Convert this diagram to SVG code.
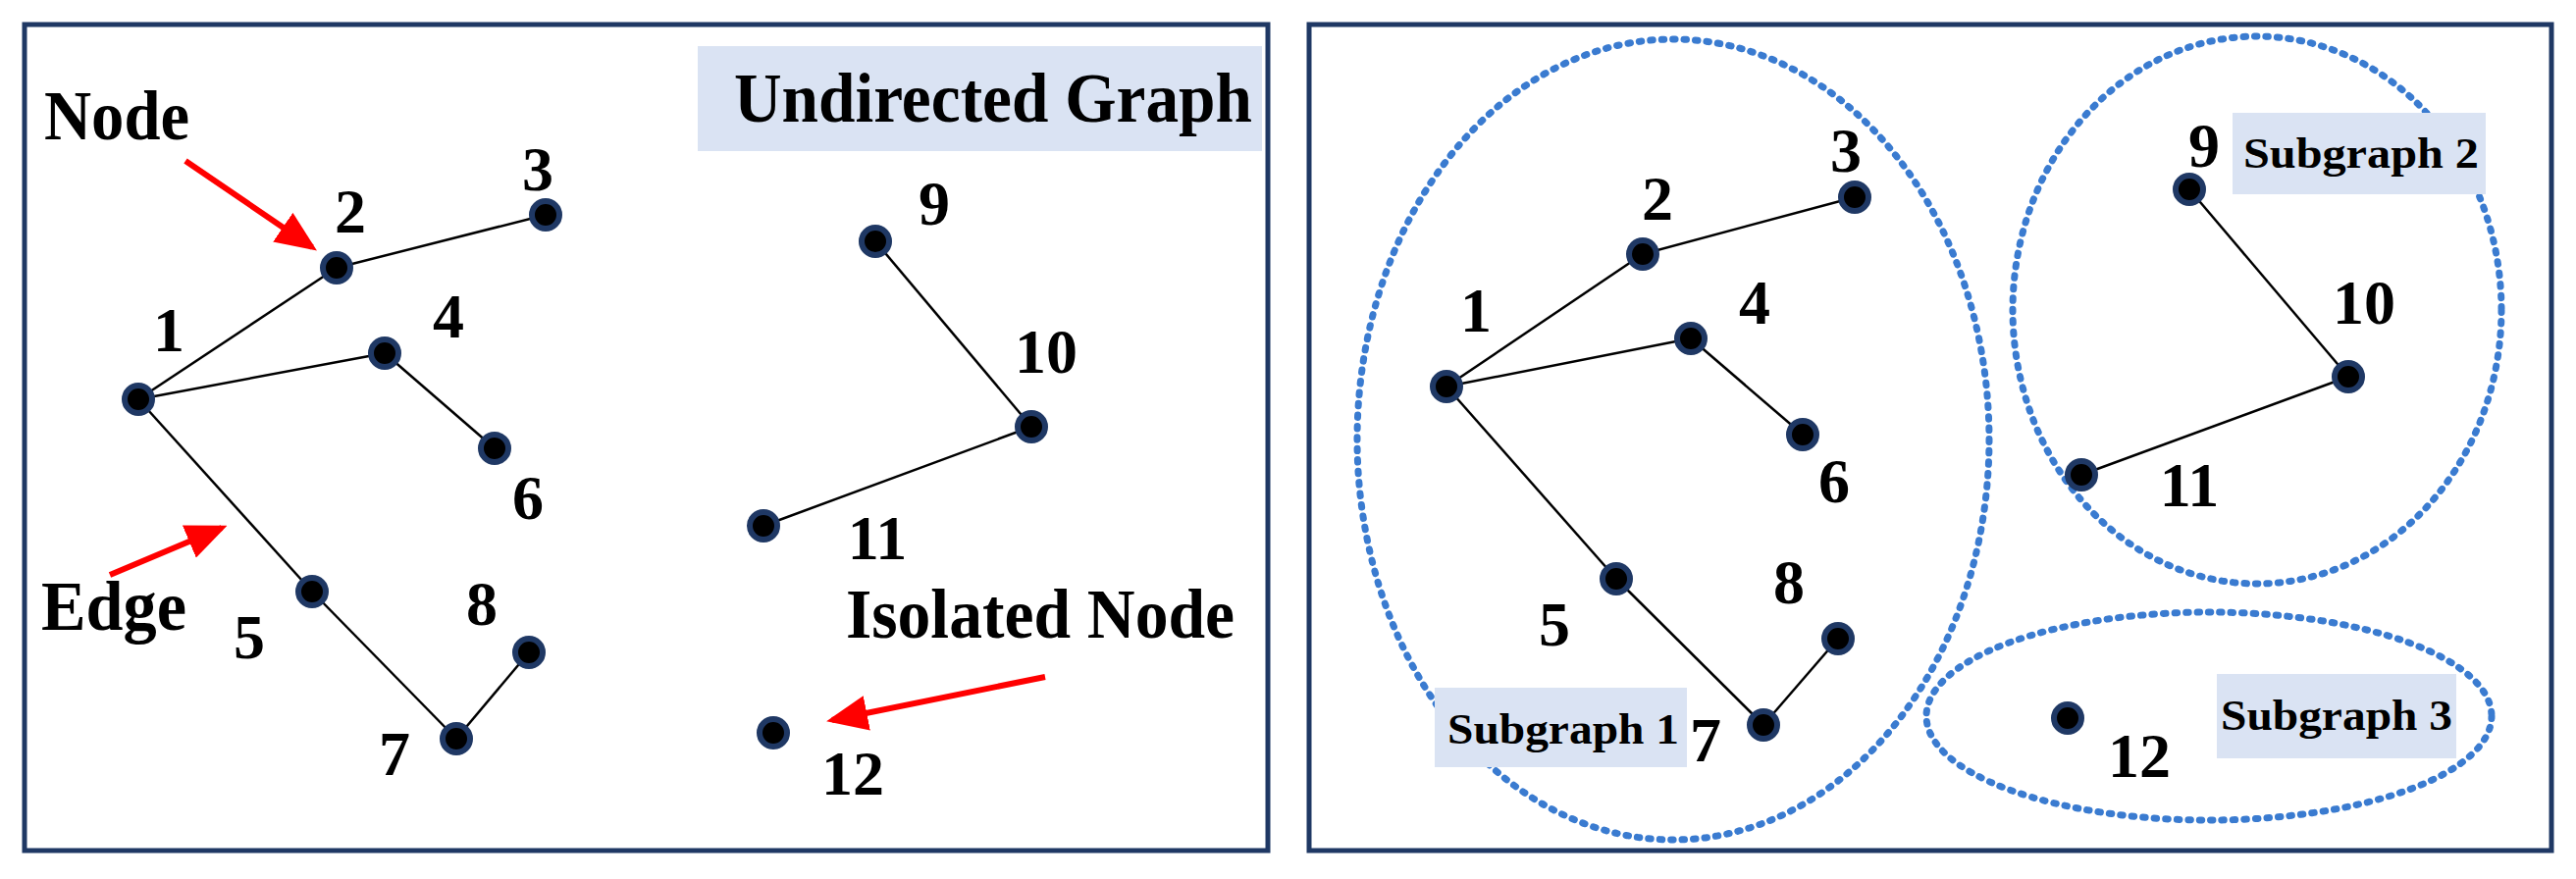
<svg xmlns="http://www.w3.org/2000/svg" width="2625" height="896" viewBox="0 0 2625 896">
<style>
.panel{fill:#fff;stroke:#1f3864;stroke-width:5}
.n{fill:#000;stroke:#1f3864;stroke-width:6}
.e{stroke:#000;stroke-width:2.5;fill:none}
.t{font-family:"Liberation Serif",serif;font-weight:bold;font-size:64px;fill:#000;text-anchor:middle}
.w{font-family:"Liberation Serif",serif;font-weight:bold;font-size:72px;fill:#000}
.s{font-family:"Liberation Serif",serif;font-weight:bold;font-size:44px;fill:#000}
.box{fill:#dae3f3}
.ell{fill:none;stroke:#3a7bd0;stroke-width:7;stroke-dasharray:2.5 9;stroke-linecap:round}
.arr{stroke:#f00;stroke-width:6;fill:none}
</style>
<defs><marker id="ah" markerWidth="7" markerHeight="6" refX="6" refY="3" orient="auto"><path d="M0,0 L7,3 L0,6 z" fill="#f00"/></marker></defs>
<rect class="panel" x="25" y="25" width="1267" height="842"/>
<rect class="panel" x="1334" y="25" width="1266" height="842"/>
<g id="labels-left">
<rect class="box" x="711" y="47" width="575" height="107"/>
<text class="w" x="748" y="124" textLength="528" lengthAdjust="spacingAndGlyphs">Undirected Graph</text>
<text class="w" x="45" y="142" textLength="148" lengthAdjust="spacingAndGlyphs">Node</text>
<text class="w" x="42" y="642" textLength="148" lengthAdjust="spacingAndGlyphs">Edge</text>
<text class="w" x="862" y="650" textLength="396" lengthAdjust="spacingAndGlyphs">Isolated Node</text>
</g>
<g id="connectors">
<line class="e" x1="141" y1="407" x2="343" y2="273"/><line class="e" x1="343" y1="273" x2="556" y2="219"/>
<line class="e" x1="141" y1="407" x2="392" y2="360"/><line class="e" x1="392" y1="360" x2="504" y2="457"/>
<line class="e" x1="141" y1="407" x2="318" y2="603"/><line class="e" x1="318" y1="603" x2="465" y2="753"/>
<line class="e" x1="465" y1="753" x2="539" y2="665"/><line class="e" x1="892" y1="246" x2="1051" y2="435"/>
<line class="e" x1="1051" y1="435" x2="778" y2="536"/>
<line class="e" x1="1474" y1="394" x2="1674" y2="259"/><line class="e" x1="1674" y1="259" x2="1890" y2="201"/>
<line class="e" x1="1474" y1="394" x2="1723" y2="345"/><line class="e" x1="1723" y1="345" x2="1837" y2="443"/>
<line class="e" x1="1474" y1="394" x2="1647" y2="590"/><line class="e" x1="1647" y1="590" x2="1797" y2="739"/>
<line class="e" x1="1797" y1="739" x2="1873" y2="651"/><line class="e" x1="2231" y1="193" x2="2393" y2="384"/>
<line class="e" x1="2393" y1="384" x2="2121" y2="484"/>
<line class="arr" x1="189" y1="164" x2="318" y2="252" marker-end="url(#ah)"/>
<line class="arr" x1="112" y1="586" x2="226" y2="538" marker-end="url(#ah)"/>
<line class="arr" x1="1065" y1="690" x2="848" y2="734" marker-end="url(#ah)"/>
</g>
<g id="left-nodes">
<g id="L1"><circle class="n" cx="141" cy="407" r="14"/><text class="t" x="172" y="358">1</text></g>
<g id="L2"><circle class="n" cx="343" cy="273" r="14"/><text class="t" x="357" y="237">2</text></g>
<g id="L3"><circle class="n" cx="556" cy="219" r="14"/><text class="t" x="548" y="194">3</text></g>
<g id="L4"><circle class="n" cx="392" cy="360" r="14"/><text class="t" x="457" y="344">4</text></g>
<g id="L5"><circle class="n" cx="318" cy="603" r="14"/><text class="t" x="254" y="671">5</text></g>
<g id="L6"><circle class="n" cx="504" cy="457" r="14"/><text class="t" x="538" y="529">6</text></g>
<g id="L7"><circle class="n" cx="465" cy="753" r="14"/><text class="t" x="402" y="790">7</text></g>
<g id="L8"><circle class="n" cx="539" cy="665" r="14"/><text class="t" x="491" y="637">8</text></g>
<g id="L9"><circle class="n" cx="892" cy="246" r="14"/><text class="t" x="952" y="229">9</text></g>
<g id="L10"><circle class="n" cx="1051" cy="435" r="14"/><text class="t" x="1066" y="380">10</text></g>
<g id="L11"><circle class="n" cx="778" cy="536" r="14"/><text class="t" x="894" y="570">11</text></g>
<g id="L12"><circle class="n" cx="788" cy="747" r="14"/><text class="t" x="869" y="810">12</text></g>
</g>
<g id="subgraphs">
<ellipse class="ell" cx="1705" cy="448" rx="322" ry="408"/>
<ellipse class="ell" cx="2300" cy="316" rx="249" ry="279"/>
<ellipse class="ell" cx="2251" cy="730" rx="288" ry="106"/>
<rect class="box" x="1462" y="701" width="257" height="81"/><text class="s" x="1475" y="758" textLength="236" lengthAdjust="spacingAndGlyphs">Subgraph 1</text>
<rect class="box" x="2275" y="115" width="258" height="83"/><text class="s" x="2286" y="171" textLength="240" lengthAdjust="spacingAndGlyphs">Subgraph 2</text>
<rect class="box" x="2259" y="687" width="244" height="86"/><text class="s" x="2263" y="744" textLength="236" lengthAdjust="spacingAndGlyphs">Subgraph 3</text>
</g>
<g id="right-nodes">
<g id="R1"><circle class="n" cx="1474" cy="394" r="14"/><text class="t" x="1504" y="338">1</text></g>
<g id="R2"><circle class="n" cx="1674" cy="259" r="14"/><text class="t" x="1689" y="224">2</text></g>
<g id="R3"><circle class="n" cx="1890" cy="201" r="14"/><text class="t" x="1881" y="175">3</text></g>
<g id="R4"><circle class="n" cx="1723" cy="345" r="14"/><text class="t" x="1788" y="330">4</text></g>
<g id="R5"><circle class="n" cx="1647" cy="590" r="14"/><text class="t" x="1584" y="658">5</text></g>
<g id="R6"><circle class="n" cx="1837" cy="443" r="14"/><text class="t" x="1869" y="512">6</text></g>
<g id="R7"><circle class="n" cx="1797" cy="739" r="14"/><text class="t" x="1738" y="776">7</text></g>
<g id="R8"><circle class="n" cx="1873" cy="651" r="14"/><text class="t" x="1823" y="615">8</text></g>
<g id="R9"><circle class="n" cx="2231" cy="193" r="14"/><text class="t" x="2246" y="170">9</text></g>
<g id="R10"><circle class="n" cx="2393" cy="384" r="14"/><text class="t" x="2409" y="330">10</text></g>
<g id="R11"><circle class="n" cx="2121" cy="484" r="14"/><text class="t" x="2231" y="516">11</text></g>
<g id="R12"><circle class="n" cx="2107" cy="732" r="14"/><text class="t" x="2180" y="792">12</text></g>
</g>
</svg>
